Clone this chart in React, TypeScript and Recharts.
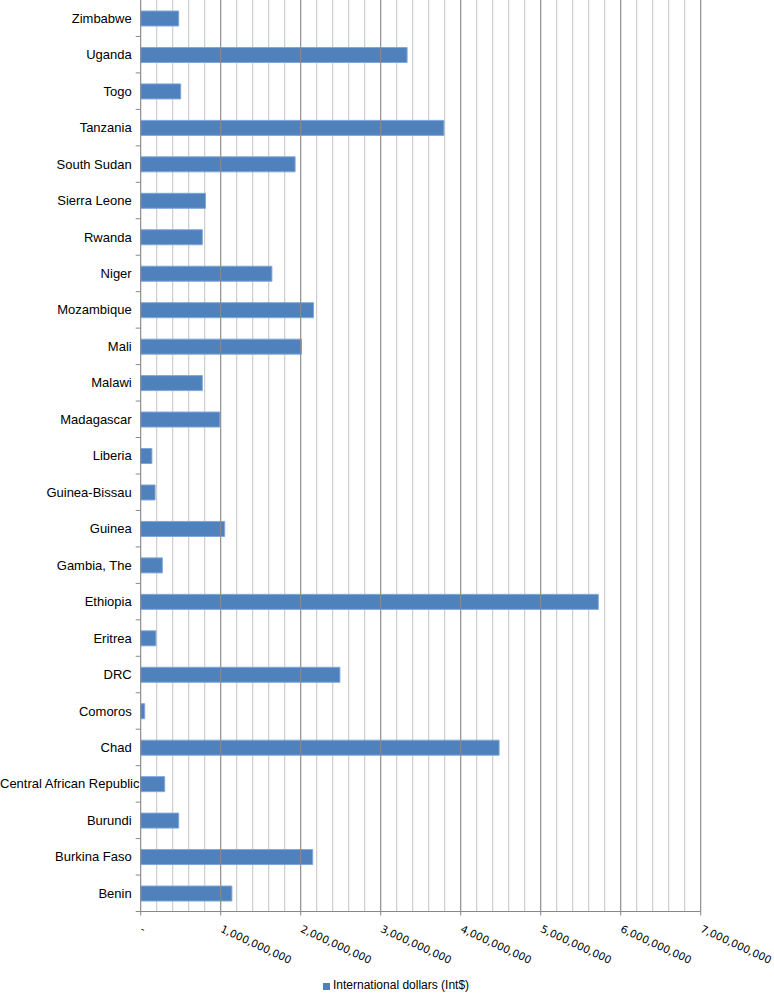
import React from 'react';
import { BarChart, Bar, XAxis, YAxis, CartesianGrid, ReferenceLine, Legend } from 'recharts';

const categories = [
  'Zimbabwe', 'Uganda', 'Togo', 'Tanzania', 'South Sudan', 'Sierra Leone', 'Rwanda', 'Niger',
  'Mozambique', 'Mali', 'Malawi', 'Madagascar', 'Liberia', 'Guinea-Bissau', 'Guinea', 'Gambia, The',
  'Ethiopia', 'Eritrea', 'DRC', 'Comoros', 'Chad', 'Central African Republic', 'Burundi',
  'Burkina Faso', 'Benin',
];
const values = [
  475e6, 3330e6, 500e6, 3790e6, 1930e6, 810e6, 770e6, 1640e6,
  2160e6, 2010e6, 770e6, 990e6, 140e6, 180e6, 1050e6, 270e6,
  5720e6, 190e6, 2490e6, 50e6, 4480e6, 300e6, 475e6,
  2150e6, 1140e6,
];
const gridTicks = [
  0, 2e8, 4e8, 6e8, 8e8, 1e9, 1.2e9, 1.4e9, 1.6e9, 1.8e9, 2e9, 2.2e9, 2.4e9, 2.6e9, 2.8e9,
  3e9, 3.2e9, 3.4e9, 3.6e9, 3.8e9, 4e9, 4.2e9, 4.4e9, 4.6e9, 4.8e9, 5e9, 5.2e9, 5.4e9, 5.6e9,
  5.8e9, 6e9, 6.2e9, 6.4e9, 6.6e9, 6.8e9, 7e9,
];
const majorTicks = [1e9, 2e9, 3e9, 4e9, 5e9, 6e9, 7e9];
const seriesName = 'International dollars (Int$)';

const data = categories.map((c, i) => ({ country: c, value: values[i] }));

const fmt = (v: number) => (v === 0 ? '-' : v.toLocaleString('en-US'));

const XTick = (props: any) => {
  const { x, y, payload } = props;
  const v = payload.value;
  if (Math.abs(v / 1e9 - Math.round(v / 1e9)) > 1e-6) return null;
  const ty = y + 20;
  return (
    <g>
      <line x1={x} x2={x} y1={y} y2={y + 4} stroke="#888" />
      <text
        x={x - 1}
        y={ty}
        textAnchor="start"
        fontSize={10.5}
        fontFamily="DejaVu Sans, Verdana, sans-serif"
        fill="#000"
        transform={`rotate(25, ${x - 1}, ${ty})`}
      >
        {fmt(v)}
      </text>
    </g>
  );
};

const YTick = (props: any) => {
  const { x, y, payload } = props;
  const off = payload.offset ?? 18.2;
  const label = String(payload.value);
  const long = label.length > 20;
  return (
    <g>
      <line x1={x - 5} x2={x} y1={y + off} y2={y + off} stroke="#888" />
      <text
        x={long ? 0 : x - 9}
        y={y}
        dy="0.35em"
        textAnchor={long ? 'start' : 'end'}
        fontSize={13}
        fontFamily="Liberation Sans, Arial, sans-serif"
        fill="#000"
      >
        {label}
      </text>
    </g>
  );
};

const LegendContent = () => (
  <div style={{ position: 'relative', width: 774, height: 22 }}>
    <div
      style={{
        position: 'absolute',
        left: 323,
        top: 12,
        width: 7,
        height: 7,
        background: '#4f81bd',
      }}
    />
    <div
      style={{
        position: 'absolute',
        left: 333,
        top: 7,
        fontSize: 12,
        lineHeight: '14px',
        fontFamily: 'Liberation Sans, Arial, sans-serif',
        color: '#000',
        whiteSpace: 'nowrap',
      }}
    >
      {seriesName}
    </div>
  </div>
);

export default function App() {
  return (
    <div style={{ position: 'absolute', left: 0, top: 0, width: 774, height: 993, background: '#fff' }}>
      <BarChart
        width={774}
        height={993}
        data={data}
        layout="vertical"
        margin={{ top: 0, right: 73.3, left: 0, bottom: 0 }}
      >
        <CartesianGrid horizontal={false} stroke="#c4c4c4" />
        <XAxis
          type="number"
          dataKey="value"
          domain={[0, 7e9]}
          ticks={gridTicks}
          interval={0}
          height={59.5}
          tickSize={0}
          tickMargin={0}
          tickLine={false}
          axisLine={{ stroke: '#888' }}
          tick={<XTick />}
        />
        <YAxis
          type="category"
          dataKey="country"
          width={140.7}
          interval={0}
          tickSize={0}
          tickMargin={0}
          tickLine={false}
          axisLine={{ stroke: '#888' }}
          tick={<YTick />}
        />
        {majorTicks.map((t) => (
          <ReferenceLine key={t} x={t} stroke="#8c8c8c" />
        ))}
        <Legend verticalAlign="bottom" height={22} content={<LegendContent />} />
        <Bar
          dataKey="value"
          name={seriesName}
          fill="#4f81bd"
          stroke="#7ea7da"
          strokeWidth={1}
          barSize={15}
          isAnimationActive={false}
        />
      </BarChart>
    </div>
  );
}
